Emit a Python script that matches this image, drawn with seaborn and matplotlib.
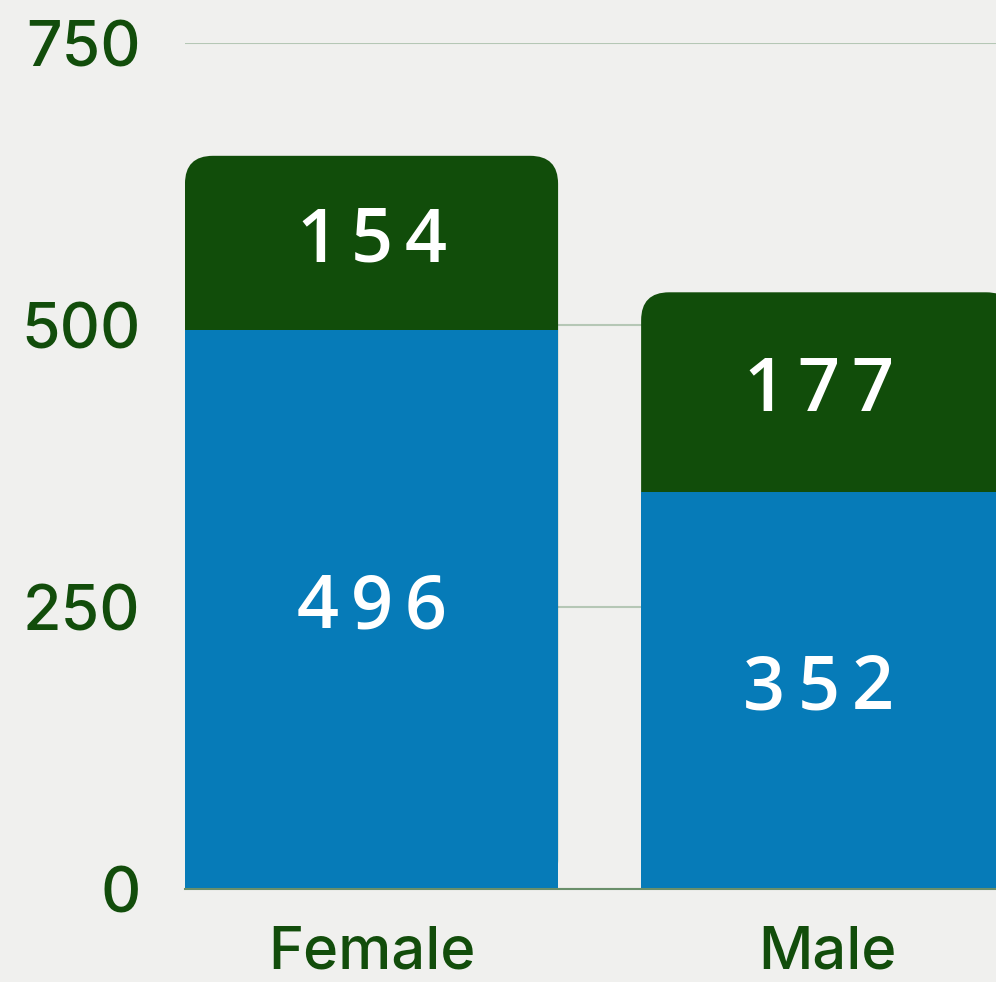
import matplotlib
matplotlib.use("Agg")
import matplotlib.pyplot as plt
import matplotlib.transforms as mtransforms
import seaborn as sns
import pandas as pd
from matplotlib.patches import FancyBboxPatch
from matplotlib.font_manager import FontProperties

categories = ["Female", "Male"]
bottom_vals = [496, 352]
top_vals = [154, 177]
y_ticks = [0, 250, 500, 750]

BG = "#f0f0ee"
BLUE = "#067bb8"
GREEN = "#114d0a"
TXT = "#124d0b"
GRID = "#b5c7b5"

sns.set_theme(style="white")
plt.rcParams["font.family"] = ["Inter", "DejaVu Sans"]

totals = [b + t for b, t in zip(bottom_vals, top_vals)]
df = pd.DataFrame({"cat": categories, "bottom": bottom_vals, "top": top_vals, "total": totals})

fig = plt.figure(figsize=(9.96, 9.82), dpi=100, facecolor=BG)
ax = fig.add_axes([0.1857, 0.0947, 0.8143, 0.8615])
ax.set_facecolor(BG)

W = 0.818
XMAX = 1.369
sns.barplot(data=df, x="cat", y="total", color=GREEN, width=W, ax=ax, saturation=1,
            edgecolor="none", linewidth=0, zorder=2)
n_green = len(ax.patches)
sns.barplot(data=df, x="cat", y="bottom", color=BLUE, width=W, ax=ax, saturation=1,
            edgecolor="none", linewidth=0, zorder=3)

ax.set_xlim(-W / 2, XMAX)
ax.set_ylim(0, 750)

# replace green bars with rounded-top versions
px_per_x = 0.8143 * 996 / (XMAX + W / 2)
px_per_y = 0.8615 * 982 / 750
r_px = 28
r_x = r_px / px_per_x
aspect = (r_px / px_per_y) / r_x
green = ax.patches[:n_green]
for p in green:
    x0, y0 = p.get_x(), p.get_y()
    w, h = p.get_width(), p.get_height()
    p.set_visible(False)
    fb = FancyBboxPatch((x0, y0), w, h, boxstyle=f"round,pad=0,rounding_size={r_x}",
                        mutation_aspect=aspect, facecolor=GREEN, edgecolor="none",
                        linewidth=0, zorder=2)
    ax.add_patch(fb)

digits_font = FontProperties(family="Open Sans", size=53, weight="semibold")
pitch_pt = 39.0


def spaced_label(x, y, s):
    n = len(s)
    for k, ch in enumerate(s):
        dx = (k - (n - 1) / 2) * pitch_pt / 72.0
        tr = ax.transData + mtransforms.ScaledTranslation(dx, 0, fig.dpi_scale_trans)
        ax.text(x, y, ch, ha="center", va="center", color="white",
                fontproperties=digits_font, transform=tr, zorder=5)


xlo, xhi = ax.get_xlim()
for i, (b, t) in enumerate(zip(bottom_vals, top_vals)):
    left = max(i - W / 2, xlo)
    right = min(i + W / 2, xhi)
    xc = (left + right) / 2
    spaced_label(xc, b / 2, str(b))
    spaced_label(xc, b + t / 2, str(t))

ax.set_yticks(y_ticks)
ax.set_yticklabels([str(v) for v in y_ticks])
ax.grid(axis="y", color=GRID, linewidth=1.5, zorder=0)
ax.set_axisbelow(True)
ax.tick_params(axis="y", length=0, pad=32, labelsize=45, labelcolor=TXT)
ax.tick_params(axis="x", length=0, pad=26, labelsize=43, labelcolor=TXT)
for lab in ax.get_xticklabels() + ax.get_yticklabels():
    lab.set_fontweight("medium")
ax.set_xlabel("")
ax.set_ylabel("")
for s in ["top", "right", "left"]:
    ax.spines[s].set_visible(False)
ax.spines["bottom"].set_color("#6a8f6a")
ax.spines["bottom"].set_linewidth(1.5)
ax.spines["bottom"].set_zorder(4)

fig.savefig("out.png", dpi=100, facecolor=BG)
